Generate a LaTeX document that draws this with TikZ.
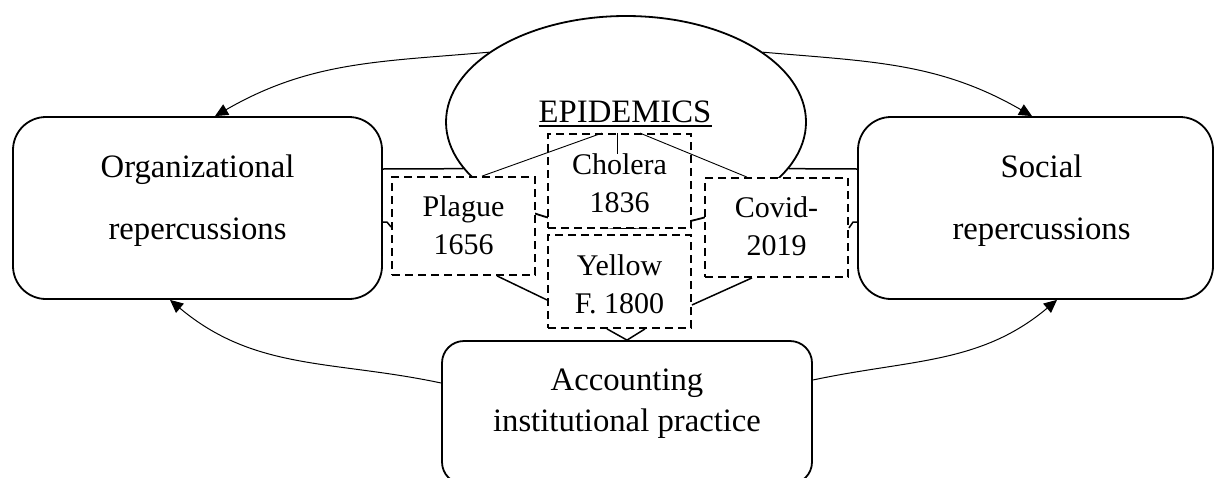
\documentclass[tikz,border=0pt]{standalone}
\usepackage{fontspec}
\setmainfont{Liberation Serif}
\usetikzlibrary{shapes.geometric,arrows.meta}
\begin{document}
\begin{tikzpicture}[x=1pt,y=-1pt,
 bigbox/.style={draw,line width=1.8pt,rounded corners=33pt,inner sep=0,fill=white},
 dbox/.style={draw,line width=1.8pt,dash pattern=on 8pt off 5pt,fill=white,inner sep=0,minimum width=143pt},
 big/.style={font=\fontsize{32.7pt}{39pt}\selectfont,inner sep=0,anchor=base},
 small/.style={font=\fontsize{30pt}{36pt}\selectfont,inner sep=0,anchor=base},
 conn/.style={line width=1.5pt},
 thinl/.style={line width=0.9pt},
 arr/.style={line width=1pt,-{Triangle[length=13pt,width=12pt]}}]
\useasboundingbox (0,0) rectangle (1215,477);

% ellipse
\node[ellipse,draw,line width=1.8pt,fill=white,minimum width=360pt,minimum height=212pt,inner sep=0] (epi) at (626,122) {};
\node[big] (epit) at (625,122) {EPIDEMICS};
\draw[line width=1.3pt] ([yshift=-4pt]epit.base west) -- ([yshift=-4pt]epit.base east);

% big boxes
\node[bigbox,minimum width=369pt,minimum height=182pt] (lbox) at (197.5,208) {};
\node[bigbox,minimum width=355pt,minimum height=182pt] (rbox) at (1035.5,208) {};
\node[bigbox,rounded corners=22pt,minimum width=370pt,minimum height=143pt] (acc) at (627,412.5) {};

\node[big] (l1) at (197.5,177) {Organizational};
\node[big] (l2) at (197.5,239) {repercussions};
\node[big] (r1) at (1041.5,177) {Social};
\node[big] (r2) at (1041.5,239) {repercussions};
\node[big] (a1) at (627,390) {Accounting};
\node[big] (a2) at (627,431) {institutional practice};

% dashed boxes
\node[dbox,minimum height=98pt] (plague) at (463.5,226) {};
\node[dbox,minimum height=94pt] (chol) at (619.5,181) {};
\node[dbox,minimum height=99pt] (covid) at (776.5,227.5) {};
\node[dbox,minimum height=93pt] (yellow) at (619.5,281.5) {};

\node[small] (p1) at (463.5,216) {Plague};
\node[small] (p2) at (463.5,254) {1656};
\node[small] (c1) at (619.5,174) {Cholera};
\node[small] (c2) at (619.5,212) {1836};
\node[small] (v1) at (776.5,217) {Covid-};
\node[small] (v2) at (776.5,255) {2019};
\node[small] (y1) at (619.5,275) {Yellow};
\node[small] (y2) at (619.5,313) {F. 1800};

% connectors from EPIDEMICS
\draw[thinl] ([xshift=-17.5pt]chol.north) -- ([xshift=18.5pt]plague.north);
\draw[thinl] ([xshift=-2.5pt]chol.north) -- ++(0,21);
\draw[thinl] ([xshift=20.5pt]chol.north) -- ([xshift=-29.5pt]covid.north);

% box to ellipse lines
\draw[conn] ([yshift=39pt]lbox.east) -- (epi.196.3);
\draw[conn] ([yshift=39pt]rbox.west) -- (epi.-16.3);

% small kinks
\draw[conn] ([yshift=-14pt]lbox.east) -- ++(4,0) -- ([yshift=-1pt]plague.west);
\draw[conn] ([yshift=-14pt]rbox.west) -- ++(-4,0) -- ([yshift=-0.5pt]covid.east);

% lower connectors
\draw[conn] ([xshift=33.5pt]plague.south) -- ([yshift=-18.5pt]yellow.west);
\draw[conn] ([xshift=-24.5pt]covid.south) -- ([yshift=-23.5pt]yellow.east);
\draw[conn] ([xshift=-12.5pt]yellow.south) -- (acc.north) -- ([xshift=25.5pt]yellow.south);

% curved arrows
\draw[arr] (epi.153) to[out=185,in=30] ([xshift=17.5pt]lbox.north);
\draw[arr] (epi.27) to[out=-5,in=150] ([xshift=-3.5pt]rbox.north);
\draw[arr] ([yshift=29.5pt]acc.west) to[out=168,in=-40] ([xshift=-27.5pt]lbox.south);
\draw[arr] ([yshift=32.5pt]acc.east) to[out=12,in=220] ([xshift=21.5pt]rbox.south);
\end{tikzpicture}
\end{document}
